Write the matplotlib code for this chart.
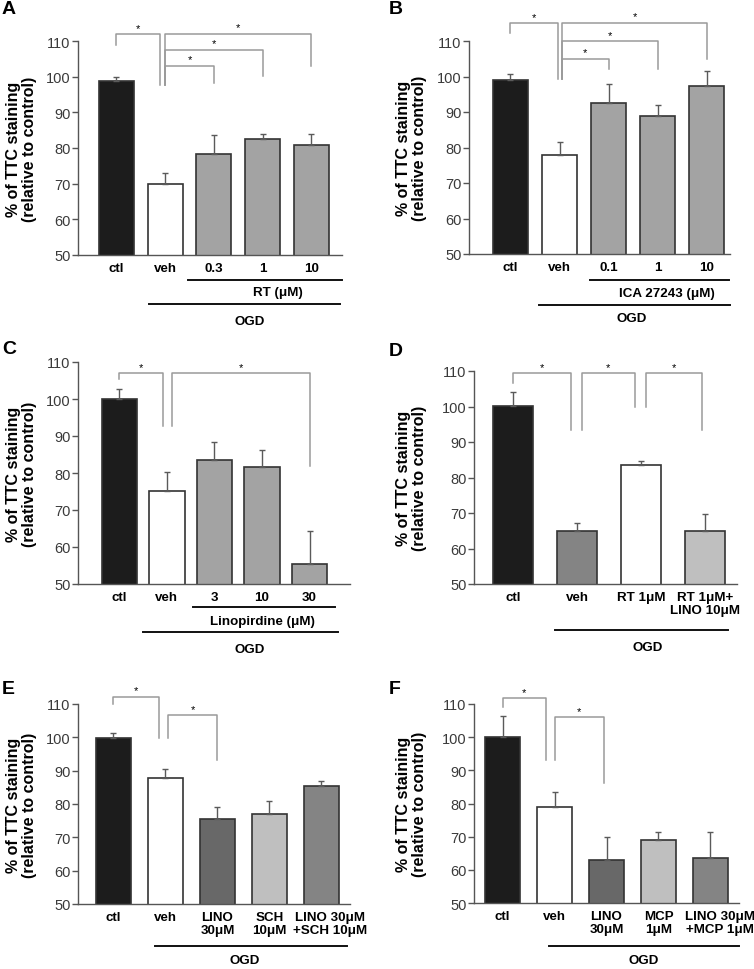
import matplotlib
matplotlib.use('Agg')
import matplotlib.pyplot as plt
from matplotlib.transforms import blended_transform_factory

plt.rcParams['font.family'] = ['Liberation Sans', 'DejaVu Sans']

W, H = 754, 970

# ---- values ----
labels_a = ['ctl', 'veh', '0.3', '1', '10']
means_a = [98.9, 70.0, 78.4, 82.5, 80.8]
sem_a = [1.0, 2.9, 5.3, 1.5, 3.2]

labels_b = ['ctl', 'veh', '0.1', '1', '10']
means_b = [99.0, 77.8, 92.5, 88.8, 97.2]
sem_b = [1.6, 3.8, 5.3, 3.1, 4.3]

labels_c = ['ctl', 'veh', '3', '10', '30']
means_c = [100.0, 75.2, 83.6, 81.7, 55.4]
sem_c = [2.8, 5.0, 4.9, 4.5, 9.0]

labels_d = ['ctl', 'veh', 'RT 1\u03bcM', 'RT 1\u03bcM+\nLINO 10\u03bcM']
means_d = [100.2, 65.0, 83.5, 64.8]
sem_d = [3.8, 2.2, 1.1, 4.9]

labels_e = ['ctl', 'veh', 'LINO\n30\u03bcM', 'SCH\n10\u03bcM', 'LINO 30\u03bcM\n+SCH 10\u03bcM']
means_e = [99.9, 87.7, 75.6, 77.1, 85.4]
sem_e = [1.4, 2.9, 3.6, 3.8, 1.5]

labels_f = ['ctl', 'veh', 'LINO\n30\u03bcM', 'MCP\n1\u03bcM', 'LINO 30\u03bcM\n+MCP 1\u03bcM']
means_f = [100.2, 78.8, 63.1, 69.1, 63.7]
sem_f = [6.3, 4.8, 6.9, 2.4, 7.8]

# significance brackets: (x left, x right, top, left leg end, right leg end)
sig_a = [(0, 0.9, 111.9, 109.0, 97.8), (1, 2, 103.0, 97.8, 98.3),
         (1, 3, 107.5, 97.8, 100.3), (1, 4, 112.0, 97.8, 103.0)]
sig_b = [(0, 0.96, 115.0, 112.3, 99.2), (1.05, 2, 105.0, 99.2, 102.2),
         (1.05, 3, 110.0, 99.2, 102.2), (1.05, 4, 115.2, 99.2, 104.8)]
sig_c = [(0, 0.92, 107.0, 105.5, 92.7), (1.1, 4, 107.0, 92.7, 82.0)]
sig_d = [(0, 0.9, 109.3, 106.5, 93.4), (1.08, 1.9, 109.3, 93.4, 99.8),
         (2.08, 2.95, 109.3, 99.8, 93.4)]
sig_e = [(0, 0.88, 112.2, 110.0, 99.8), (1.05, 2, 106.7, 99.8, 93.3)]
sig_f = [(0, 0.84, 111.7, 109.0, 93.0), (1.0, 1.95, 106.0, 93.0, 86.2)]

# ---- styling ----
BLACK, WHITE, GREY = '#1c1c1c', 'white', '#a3a3a3'
DARK, MID, LIGHT = '#686868', '#848484', '#bfbfbf'

colors_a = [BLACK, WHITE, GREY, GREY, GREY]
colors_b = colors_a
colors_c = colors_a
colors_d = [BLACK, MID, WHITE, LIGHT]
colors_e = [BLACK, WHITE, DARK, LIGHT, MID]
colors_f = colors_e

YLABEL = '% of TTC staining\n(relative to control)'
FS = 9.6


def draw_panel(fig, letter, letter_px, box, xlim, width, labels, means, sems, colors,
               sigs, groups, ylab_px, last_shift=0.0):
  l, t, r, b = box
  hpx = b - t
  ax = fig.add_axes([l / W, 1 - b / H, (r - l) / W, hpx / H])
  x = list(range(len(means)))
  ax.bar(x, means, width=width, color=colors, edgecolor='#333333', linewidth=1.2, zorder=2)
  ax.errorbar(x, means, yerr=[[0] * len(sems), sems], fmt='none', ecolor='#5a5a5a',
              elinewidth=1, capsize=2.5, capthick=1, zorder=3)
  ax.set_ylim(50, 110)
  ax.set_xlim(*xlim)
  ax.set_yticks(range(50, 111, 10))
  ticks = x[:-1] + [x[-1] + last_shift]
  ax.set_xticks(ticks)
  ax.set_xticklabels(labels, fontweight='bold', fontsize=FS, linespacing=1.15)
  ax.tick_params(axis='x', length=0, pad=5)
  ax.tick_params(axis='y', length=4, width=1, pad=1.5, labelsize=10.5,
                 color='#555555', labelcolor='#3a3a3a')
  for s in ['top', 'right']:
    ax.spines[s].set_visible(False)
  for s in ['left', 'bottom']:
    ax.spines[s].set_color('#555555')
    ax.spines[s].set_linewidth(1)
  ax.set_ylabel(YLABEL, fontweight='bold', fontsize=11.5, linespacing=1.05)
  ax.yaxis.set_label_coords(-(l - ylab_px) / (r - l), 0.5)

  # significance brackets
  for xl, xr, top, yl, yr in sigs:
    ax.plot([xl, xl, xr, xr], [yl, top, top, yr], color='#9a9a9a', lw=1.1,
            clip_on=False, zorder=1)
    ax.annotate('*', ((xl + xr) / 2, top), xytext=(0, 1), textcoords='offset points',
                ha='center', va='bottom', fontsize=8, annotation_clip=False)

  # group lines under the tick labels
  trans = blended_transform_factory(ax.transData, ax.transAxes)
  for x0, x1, dy_line, text, xt, dy_text in groups:
    yl = -dy_line / hpx
    ax.plot([x0, x1], [yl, yl], transform=trans, color='#111111', lw=1.4, clip_on=False)
    ax.text(xt, -dy_text / hpx, text, transform=trans, ha='center', va='center',
            fontweight='bold', fontsize=FS)

  fig.text(letter_px[0] / W, 1 - letter_px[1] / H, letter, ha='left', va='top',
           fontsize=14, fontweight='bold')
  return ax


fig = plt.figure(figsize=(W / 100, H / 100), dpi=100)

draw_panel(fig, 'A', (2, 1), (78, 42, 342, 256), (-0.79, 4.63), 0.72,
           labels_a, means_a, sem_a, colors_a, sig_a,
           [(1.47, 4.63, 25, 'RT (\u03bcM)', 3.31, 37), (0.67, 4.58, 49, 'OGD', 2.74, 66)], 37)
draw_panel(fig, 'B', (389, 1), (469, 42, 730, 255), (-0.845, 4.47), 0.71,
           labels_b, means_b, sem_b, colors_b, sig_b,
           [(1.62, 4.45, 26, 'ICA 27243 (\u03bcM)', 3.19, 39), (0.58, 4.47, 51, 'OGD', 2.47, 64)], 427)
draw_panel(fig, 'C', (2, 341), (78, 363, 350, 585), (-0.87, 4.85), 0.74,
           labels_c, means_c, sem_c, colors_c, sig_c,
           [(1.55, 4.54, 23, 'Linopirdine (\u03bcM)', 3.0, 37), (0.49, 4.6, 48, 'OGD', 2.75, 65)], 37)
draw_panel(fig, 'D', (389, 343), (474, 372, 737, 585), (-0.61, 3.5), 0.63,
           labels_d, means_d, sem_d, colors_d, sig_d,
           [(0.66, 3.36, 46, 'OGD', 2.1, 63)], 427)
draw_panel(fig, 'E', (2, 681), (78, 705, 350, 905), (-0.68, 4.55), 0.67,
           labels_e, means_e, sem_e, colors_e, sig_e,
           [(0.8, 4.49, 42, 'OGD', 2.53, 56)], 37, last_shift=0.16)
draw_panel(fig, 'F', (389, 681), (474, 705, 739, 904), (-0.55, 4.55), 0.67,
           labels_f, means_f, sem_f, colors_f, sig_f,
           [(0.89, 4.55, 43, 'OGD', 2.72, 57)], 427, last_shift=0.18)

fig.savefig('out.png', dpi=100)
